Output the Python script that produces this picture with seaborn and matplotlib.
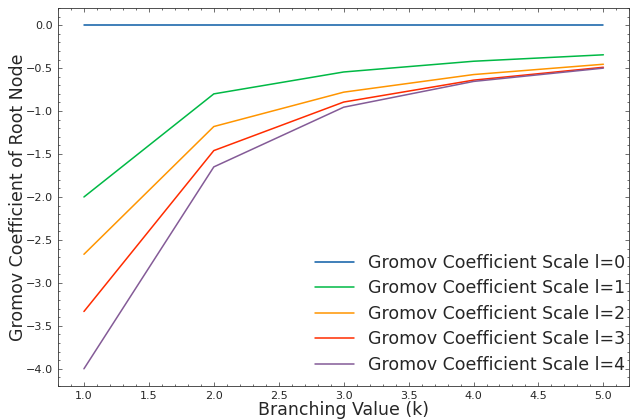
import matplotlib
matplotlib.use("Agg")
import matplotlib.pyplot as plt
import numpy as np
import pandas as pd
import seaborn as sns
from matplotlib.ticker import AutoMinorLocator

# Branching values and Gromov coefficients of the root node per scale
k_values = [1, 2, 3, 4, 5]
scale_0 = [0.0, 0.0, 0.0, 0.0, 0.0]
scale_1 = [-2.0, -0.80, -0.545, -0.42, -0.345]
scale_2 = [-2.667, -1.18, -0.78, -0.575, -0.455]
scale_3 = [-3.333, -1.46, -0.895, -0.64, -0.49]
scale_4 = [-4.0, -1.65, -0.955, -0.655, -0.50]
labels = ["Gromov Coefficient Scale l=%d" % i for i in range(5)]
colors = ["#0C5DA5", "#00B945", "#FF9500", "#FF2C00", "#845B97"]

df = pd.DataFrame({"k": k_values * 5,
                   "value": scale_0 + scale_1 + scale_2 + scale_3 + scale_4,
                   "scale": [l for l in labels for _ in k_values]})

sns.set_style("ticks")
plt.rcParams["font.family"] = ["DejaVu Sans"]

fig, ax = plt.subplots(figsize=(6.37, 4.2), dpi=100)
sns.lineplot(data=df, x="k", y="value", hue="scale", palette=colors, ax=ax, linewidth=1.1)

ax.set_xlim(0.8, 5.2)
ax.set_ylim(-4.2, 0.2)
ax.set_xticks(np.arange(1.0, 5.01, 0.5))
ax.set_yticks(np.arange(-4.0, 0.01, 0.5))
ax.xaxis.set_minor_locator(AutoMinorLocator(5))
ax.yaxis.set_minor_locator(AutoMinorLocator(5))
ax.tick_params(which="both", direction="in", top=True, right=True, labelsize=8, width=0.5, color="#333333")
ax.tick_params(which="major", length=3)
ax.tick_params(which="minor", length=1.5)
for s in ax.spines.values():
    s.set_linewidth(0.6)
    s.set_color("#333333")

ax.set_xlabel("Branching Value (k)", fontsize=12.5, labelpad=0)
ax.set_ylabel("Gromov Coefficient of Root Node", fontsize=12.5, labelpad=-1)
ax.legend(title=None, frameon=False, fontsize=12.5, loc="lower right", handlelength=2.2,
          borderaxespad=0, labelspacing=0.43, bbox_to_anchor=(1.004, 0.014))

plt.subplots_adjust(left=0.091, right=0.988, top=0.981, bottom=0.081)
plt.savefig("out.png", dpi=100)
